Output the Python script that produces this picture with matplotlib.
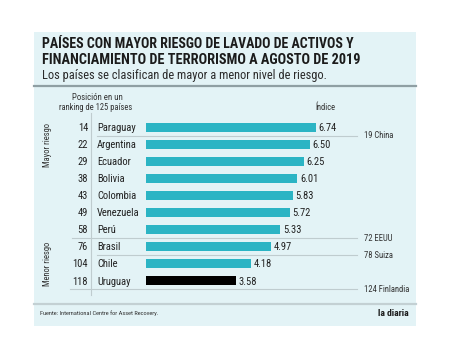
import matplotlib.pyplot as plt
from matplotlib.patches import Rectangle
from matplotlib.lines import Line2D
from matplotlib import font_manager

# Datos
paises = ['Paraguay', 'Argentina', 'Ecuador', 'Bolivia', 'Colombia',
          'Venezuela', 'Perú', 'Brasil', 'Chile', 'Uruguay']
posiciones = [14, 22, 29, 38, 43, 49, 58, 76, 104, 118]
indices = [6.74, 6.50, 6.25, 6.01, 5.83, 5.72, 5.33, 4.97, 4.18, 3.58]
referencias = ['19 China', '72 EEUU', '78 Suiza', '124 Finlandia']
ref_filas = [0.5, 6.5, 7.5, 9.5]   # línea separadora junto a la que va cada referencia

W, H = 450, 359
disponibles = {f.name for f in font_manager.fontManager.ttflist}
fam = [n for n in ['Roboto Condensed', 'Sofia Sans Condensed', 'Archivo Narrow', 'Roboto']
       if n in disponibles][:1] + ['DejaVu Sans']
plt.rcParams['font.family'] = fam

fig = plt.figure(figsize=(W / 100, H / 100), dpi=100)
renderer = fig.canvas.get_renderer()


def fx(px):
    return px / W


def fy(py):
    return 1 - py / H


def ajustar(t, ancho, vertical=False):
    # escala el tamaño de letra para que el texto ocupe 'ancho' píxeles
    bb = t.get_window_extent(renderer)
    actual = bb.height if vertical else bb.width
    t.set_fontsize(t.get_fontsize() * ancho / actual)
    return t.get_fontsize()


# fondo del panel
fig.patches.append(Rectangle((fx(34), fy(326)), fx(416) - fx(34), fy(32) - fy(326),
                             transform=fig.transFigure, facecolor='#e3f3f6',
                             edgecolor='none', zorder=-5))
fig.add_artist(Line2D([fx(34), fx(416)], [fy(86), fy(86)], color='#8f9fa3', lw=1.6))
fig.add_artist(Line2D([fx(34), fx(416)], [fy(304), fy(304)], color='#c3d0d3', lw=1.6))

# títulos
t1 = fig.text(fx(42), fy(44), 'PAÍSES CON MAYOR RIESGO DE LAVADO DE ACTIVOS Y',
              fontsize=10, fontweight='bold', color='#1b1b1b', va='center')
ajustar(t1, 313)
t2 = fig.text(fx(42), fy(60), 'FINANCIAMIENTO DE TERRORISMO A AGOSTO DE 2019',
              fontsize=10, fontweight='bold', color='#1b1b1b', va='center')
ajustar(t2, 317)
t3 = fig.text(fx(42), fy(76), 'Los países se clasifican de mayor a menor nivel de riesgo.',
              fontsize=10, color='#2b2b2b', va='center')
ajustar(t3, 282)

t = fig.text(fx(97), fy(98), 'Posición en un', fontsize=6, color='#333333', ha='center', va='center')
ajustar(t, 51)
t = fig.text(fx(96), fy(108), 'ranking de 125 países', fontsize=6, color='#333333', ha='center', va='center')
s_small = ajustar(t, 74)
fig.text(fx(325), fy(108), 'Índice', fontsize=s_small, color='#333333', ha='center', va='center')

t = fig.text(fx(47), fy(145), 'Mayor riesgo', fontsize=6.5, color='#333333', rotation=90,
             ha='center', va='center')
s_side = ajustar(t, 44, vertical=True)
fig.text(fx(47), fy(264), 'Menor riesgo', fontsize=s_side, color='#333333', rotation=90,
         ha='center', va='center')

t = fig.text(fx(40), fy(313), 'Fuente: International Centre for Asset Recovery.',
             fontsize=4.5, color='#333333', va='center')
ajustar(t, 119)
t = fig.text(fx(409), fy(313), 'la diaria', fontsize=6.5, fontweight='bold',
             color='#1b1b1b', ha='right', va='center')
ajustar(t, 31)

# eje de barras: x=0 en 146 px, 25.2 px por unidad
x0, x1 = 146, 416
ytop, ybot = 118.8, 289.2
ax = fig.add_axes([fx(x0), fy(ybot), fx(x1) - fx(x0), fy(ytop) - fy(ybot)])
ax.set_xlim(0, (x1 - x0) / 25.2)
ax.set_ylim(len(paises) - 0.5, -0.5)
ax.axis('off')
ax.patch.set_alpha(0)

colores = ['#2bb4c4'] * (len(paises) - 1) + ['#000000']
filas = list(range(len(paises)))
ax.barh(filas, indices, height=0.55, color=colores, zorder=3)

tx = ax.get_yaxis_transform()   # x en fracción del eje, y en filas
fr = lambda px: (px - x0) / (x1 - x0)

t = ax.text(fr(97), 5, 'Venezuela', transform=tx, fontsize=9, va='center', ha='left', clip_on=False)
s_row = ajustar(t, 43)
t.remove()
for i, (v, p, n) in enumerate(zip(indices, posiciones, paises)):
    ax.text(v + 0.1, i + 0.05, f'{v:.2f}', fontsize=s_row, color='#222222', va='center', ha='left')
    ax.text(fr(88), i + 0.05, str(p), transform=tx, fontsize=s_row, color='#222222',
            va='center', ha='right', clip_on=False)
    ax.text(fr(97), i + 0.05, n, transform=tx, fontsize=s_row, color='#222222',
            va='center', ha='left', clip_on=False)

# líneas separadoras
sep = {0.5: 97, 6.5: 72, 7.5: 97, 9.5: 70}
for y, xs in sep.items():
    ax.plot([fr(xs), fr(357)], [y, y], transform=tx, color='#bfcccf', lw=0.8,
            clip_on=False, zorder=1)
t = ax.text(fr(363), 9.5, referencias[-1], transform=tx, fontsize=6, va='center')
s_ref = ajustar(t, 46)
t.remove()
for txt, y in zip(referencias, ref_filas):
    ax.text(fr(364), y, txt, transform=tx, fontsize=s_ref, color='#333333',
            va='center', ha='left', clip_on=False)

# línea vertical
fig.add_artist(Line2D([fx(90.5), fx(90.5)], [fy(113), fy(295)], color='#bfcccf', lw=0.8))

fig.savefig('out.png', dpi=100)
